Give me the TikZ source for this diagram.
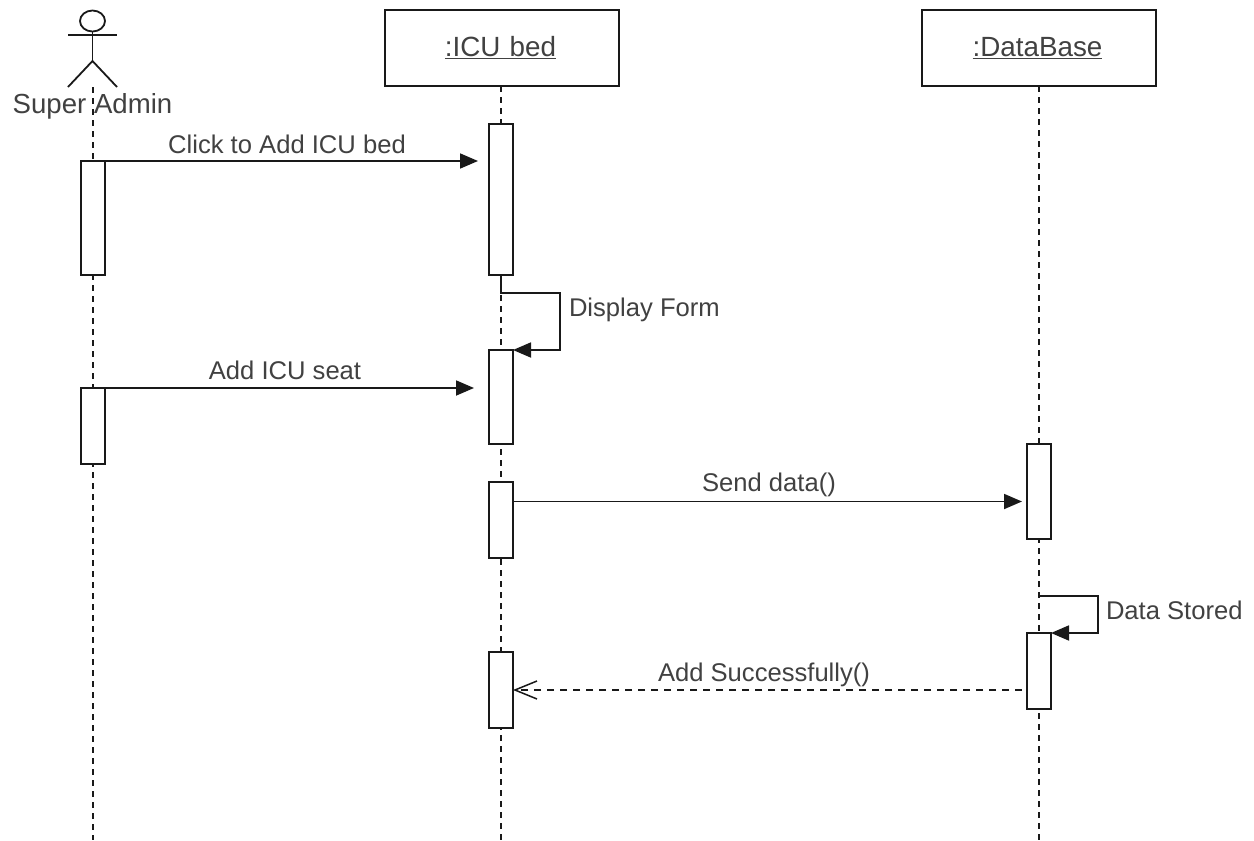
\documentclass[tikz,border=0pt]{standalone}
\usepackage{fontspec}
\setmainfont{Liberation Sans}
\usetikzlibrary{arrows.meta,shapes.geometric}
\definecolor{inkc}{RGB}{25,25,25}
\definecolor{txtc}{RGB}{65,65,65}
\tikzset{
  every node/.style={outer sep=0pt},
  headbox/.style={draw=inkc,fill=white,line width=2pt,minimum width=234pt,minimum height=76pt,inner sep=0pt,font=\fontsize{27.8}{30}\selectfont,text=txtc},
  actbox/.style={draw=inkc,fill=white,line width=2pt,minimum width=24pt,inner sep=0pt},
  life/.style={draw=inkc,line width=2pt,dash pattern=on 6pt off 5pt},
  msg/.style={draw=inkc,line width=1.8pt,-{Triangle[length=18pt,width=15pt]}},
  ret/.style={draw=inkc,line width=1.4pt,dash pattern=on 7pt off 6pt,-{Straight Barb[length=22pt,width=18pt,line width=1.5pt]}},
  lab/.style={inner sep=0pt,font=\fontsize{25.6}{28}\selectfont,text=txtc},
  stick/.style={draw=inkc,line width=1.8pt}
}
\begin{document}
\begin{tikzpicture}[x=1pt,y=-1pt]
\useasboundingbox (0,0) rectangle (1254,841);
\fill[white] (0,0) rectangle (1254,841);
% heads
\node[headbox,text width=234pt,align=center] (icu) at (502,48) {\hspace*{-3pt}\underline{:ICU bed}};
\node[headbox,text width=234pt,align=center] (db) at (1039,48) {\hspace*{-3pt}\underline{:DataBase}};
% actor
\node[draw=inkc,line width=1.8pt,ellipse,minimum width=25pt,minimum height=21pt,inner sep=0pt] (ahead) at (92.5,21) {};
\coordinate (arml) at (68,35);
\coordinate (armr) at (117,35);
\coordinate (hip) at (92.5,61);
\coordinate (legl) at (68,87);
\coordinate (legr) at (117,87);
\coordinate (alife) at (92.5,87);
\draw[stick] (ahead.south) -- (hip);
\draw[stick] (arml) -- (armr);
\draw[stick] (legl) -- (hip) -- (legr);
\node[lab,font=\fontsize{27.6}{30}\selectfont] (aname) at (92.5,106) {Super Admin};
% lifeline ends
\coordinate (aend) at (92.5,840);
\coordinate (iend) at (501,840);
\coordinate (dend) at (1039,840);
\coordinate (istart) at (501,86);
\draw[life] (alife) -- (aend);
\draw[life] (istart) -- (iend);
\draw[life] (db.south) -- (dend);
% activations
\node[actbox,minimum height=114pt] (a1) at (92.5,218) {};
\node[actbox,minimum height=76pt] (a2) at (92.5,426) {};
\node[actbox,minimum height=151pt] (i1) at (501,199.5) {};
\node[actbox,minimum height=94pt] (i2) at (501,397) {};
\node[actbox,minimum height=76pt] (i3) at (501,520) {};
\node[actbox,minimum height=76pt] (i4) at (501,690) {};
\node[actbox,minimum height=95pt] (d1) at (1039,491.5) {};
\node[actbox,minimum height=76pt] (d2) at (1039,671) {};
% messages
\coordinate (m1e) at (478,161);
\coordinate (m2e) at (474,388);
\coordinate (m3s) at (513,501.5);
\coordinate (m3e) at (1022,501.5);
\coordinate (m5s) at (1022,690);
\draw[msg] (a1.north east) -- (m1e);
\draw[msg] (a2.north east) -- (m2e);
\draw[msg] (m3s) -- (m3e);
\draw[ret] (m5s) -- (i4.east);
% self messages
\coordinate (s1a) at (501,293);
\coordinate (s1b) at (560,293);
\coordinate (s1c) at (560,350);
\coordinate (s2a) at (1039,596);
\coordinate (s2b) at (1098,596);
\coordinate (s2c) at (1098,633);
\draw[msg] (i1.south) -- (s1a) -- (s1b) -- (s1c) -- (i2.north east);
\draw[msg] (s2a) -- (s2b) -- (s2c) -- (d2.north east);
% labels
\node[lab] (l1) at (287,144) {Click to Add ICU bed};
\node[lab,anchor=west] (l2) at (569,310) {Display Form};
\node[lab] (l3) at (285,370) {Add ICU seat};
\node[lab] (l4) at (769,485) {Send data()};
\node[lab,anchor=west] (l5) at (1106,610) {Data Stored};
\node[lab] (l6) at (764,675) {Add Successfully()};
\end{tikzpicture}
\end{document}
